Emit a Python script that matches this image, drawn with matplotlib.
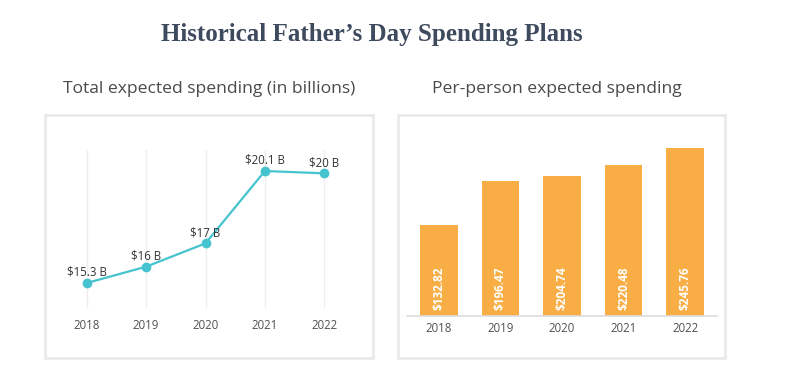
import matplotlib.pyplot as plt
from matplotlib.patches import Rectangle

years = ["2018", "2019", "2020", "2021", "2022"]
total_billions = [15.3, 16, 17, 20.1, 20]
total_labels = ["$15.3 B", "$16 B", "$17 B", "$20.1 B", "$20 B"]
per_person = [132.82, 196.47, 204.74, 220.48, 245.76]

W, H = 796, 372
fig = plt.figure(figsize=(W / 100, H / 100), dpi=100)
fig.patch.set_facecolor("white")

def fx(px):
    return px / W

def fy(py):
    return 1 - py / H

# panel frames
for x0, x1 in [(45, 373), (398, 725)]:
    fig.patches.append(Rectangle((fx(x0), fy(358)), fx(x1 - x0), (358 - 115) / H,
                                 transform=fig.transFigure, facecolor="none",
                                 edgecolor="#e8e8e8", lw=1.8, zorder=-1))

fig.text(fx(372), fy(35), "Historical Father\u2019s Day Spending Plans",
         ha="center", va="center", fontsize=18, fontweight="bold",
         family="Liberation Serif", color="#3e4a5d")
fig.text(fx(209), fy(89), "Total expected spending (in billions)",
         ha="center", va="center", fontsize=12.6, family="Open Sans", color="#4a4a4a")
fig.text(fx(557), fy(89), "Per-person expected spending",
         ha="center", va="center", fontsize=12.6, family="Open Sans", color="#4a4a4a")

# left: line chart
ax1 = fig.add_axes([fx(51), fy(308), fx(360 - 51), (308 - 150) / H])
x = range(len(years))
ax1.plot(x, total_billions, color="#45c3cf", lw=1.6, marker="o", ms=6, zorder=3)
for i, (v, lab) in enumerate(zip(total_billions, total_labels)):
    ax1.annotate(lab, (i, v), xytext=(0, 3), textcoords="offset points",
                 ha="center", va="bottom", fontsize=8.3, family="Open Sans", color="#333333")
for i in x:
    ax1.axvline(i, color="#eeeeee", lw=1, zorder=0)
ax1.set_xlim(-0.6, 4.6)
ax1.set_ylim(14.23, 21.0)
ax1.set_xticks(list(x))
ax1.set_xticklabels(years)
ax1.set_yticks([])
ax1.tick_params(axis="x", length=0, pad=8, labelsize=8.3, labelcolor="#505050")
for lab in ax1.get_xticklabels():
    lab.set_family("Open Sans")
for s in ax1.spines.values():
    s.set_visible(False)
ax1.patch.set_alpha(0)

# right: bar chart
ax2 = fig.add_axes([fx(407), fy(316), fx(717 - 407), (316 - 140) / H])
bars = ax2.bar(x, per_person, width=0.61, color="#f8ad45", zorder=2)
for i, v in enumerate(per_person):
    ax2.text(i, 9, f"${v:.2f}", rotation=90, ha="center", va="bottom",
             fontsize=8.5, fontweight="bold", family="Open Sans", color="white", zorder=3)
ax2.set_xlim(-0.52, 4.52)
ax2.set_ylim(0, 257)
ax2.set_xticks(list(x))
ax2.set_xticklabels(years)
ax2.set_yticks([])
ax2.tick_params(axis="x", length=0, pad=4, labelsize=8.3, labelcolor="#505050")
for lab in ax2.get_xticklabels():
    lab.set_family("Open Sans")
for k in ["top", "left", "right"]:
    ax2.spines[k].set_visible(False)
ax2.spines["bottom"].set_color("#dddddd")
ax2.spines["bottom"].set_linewidth(1.2)
ax2.patch.set_alpha(0)

fig.savefig("out.png", dpi=100)
